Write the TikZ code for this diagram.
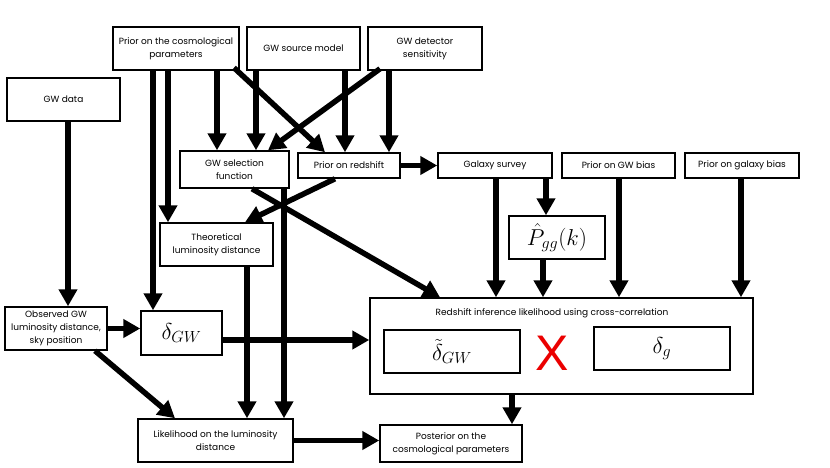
\documentclass[tikz,border=0pt]{standalone}
\usepackage{fix-cm}
\usepackage{amsmath}
\usepackage{fontspec}
\setmainfont{Poppins}
\newfontfamily\crossfont{Liberation Sans}
\usepackage{tikz}
\usetikzlibrary{arrows.meta}
\definecolor{crossred}{rgb}{0.92, 0.0, 0.0}

\begin{document}
\begin{tikzpicture}[x=1pt, y=-1pt,
    box/.style={draw, line width=1.5pt, align=center, inner sep=1pt, font=\fontsize{9}{13}\selectfont},
    mathbox/.style={draw, line width=1.5pt, inner sep=1pt, font=\fontsize{23}{27}\selectfont},
    flow/.style={-{Triangle[width=18pt, length=17pt]}, line width=5.5pt}]
    \useasboundingbox (0, 0) rectangle (830, 467);

    % Top row: priors and models
    \node[box, minimum width=126pt, minimum height=43pt] (cosmo) at (176, 48.5) {Prior on the cosmological\\parameters};
    \node[box, minimum width=113pt, minimum height=43pt] (source) at (303.5, 48.5) {GW source model};
    \node[box, minimum width=114pt, minimum height=43pt] (detector) at (425, 48.5) {GW detector\\sensitivity};
    \node[box, minimum width=113pt, minimum height=43pt] (gwdata) at (63.5, 99.5) {GW data};

    % Second row
    \node[box, minimum width=109pt, minimum height=37pt] (selection) at (234.5, 169.5) {GW selection\\function};
    \node[box, minimum width=102pt, minimum height=25pt] (zprior) at (349, 165.5) {Prior on redshift};
    \node[box, minimum width=114pt, minimum height=25pt] (survey) at (495, 165.5) {Galaxy survey};
    \node[box, minimum width=113pt, minimum height=25pt] (gwbias) at (618.5, 165.5) {Prior on GW bias};
    \node[box, minimum width=114pt, minimum height=25pt] (galbias) at (742, 165.5) {Prior on galaxy bias};

    % Middle
    \node[mathbox, minimum width=96pt, minimum height=43pt] (pgg) at (557, 237.5) {$\hat{P}_{gg}(k)$};
    \node[box, minimum width=113pt, minimum height=43pt] (theory) at (216.5, 244.5) {Theoretical\\luminosity distance};
    \node[box, minimum width=102pt, minimum height=43pt] (observed) at (56, 328.5) {Observed GW\\luminosity distance,\\sky position};
    \node[mathbox, minimum width=81pt, minimum height=44pt] (dgw) at (181.5, 333) {$\delta_{GW}$};

    % Cross-correlation block
    \node[draw, line width=1.5pt, minimum width=383pt, minimum height=96pt] (redshift) at (561.5, 346) {};
    \node[font=\fontsize{9}{11}\selectfont] (title) at (552, 313) {Redshift inference likelihood using cross-correlation};
    \node[mathbox, minimum width=136pt, minimum height=43pt] (dtilde) at (452, 351.5) {$\tilde{\delta}_{GW}$};
    \node[mathbox, minimum width=136pt, minimum height=43pt] (dg) at (662, 348.5) {$\delta_{g}$};
    \node[text=crossred, font=\crossfont\fontsize{50}{50}\selectfont, inner sep=0pt] (cross) at (552, 353) {X};

    % Bottom row
    \node[box, minimum width=155pt, minimum height=43pt] (likelihood) at (215.5, 440.5) {Likelihood on the luminosity\\distance};
    \node[box, minimum width=142pt, minimum height=37pt] (posterior) at (451, 443.5) {Posterior on the\\cosmological parameters};

    % Arrows from the top row
    \draw[flow] ([xshift=4.5pt]gwdata.south) -- ([xshift=12pt]observed.north);
    \draw[flow] ([xshift=-23pt]cosmo.south) -- ([xshift=-28.5pt]dgw.north);
    \draw[flow] ([xshift=-8pt]cosmo.south) -- ([xshift=-48.5pt]theory.north);
    \draw[flow] ([xshift=41pt]cosmo.south) -- ([xshift=-17.5pt]selection.north);
    \draw[flow] ([xshift=58pt, yshift=3pt]cosmo.south) -- ([xshift=-24pt]zprior.north);
    \draw[flow] ([xshift=-47.5pt]source.south) -- ([xshift=21.5pt]selection.north);
    \draw[flow] ([xshift=41.5pt]source.south) -- ([xshift=-4pt]zprior.north);
    \draw[flow] ([xshift=-45pt, yshift=2pt]detector.south) -- ([xshift=33.5pt]selection.north);
    \draw[flow] ([xshift=-36pt]detector.south) -- ([xshift=40pt]zprior.north);

    % Arrows in the middle
    \draw[flow] (zprior.east) -- (survey.west);
    \draw[flow] ([xshift=-14pt]zprior.south) -- ([xshift=28.5pt]theory.north);
    \draw[flow] ([xshift=49.5pt]selection.south) -- ([xshift=68.5pt]likelihood.north);
    \draw[flow] ([xshift=17.5pt]selection.south) -- ([xshift=-121.5pt]redshift.north);
    \draw[flow] ([xshift=30.5pt]theory.south) -- ([xshift=31.5pt]likelihood.north);
    \draw[flow] ([xshift=1pt]survey.south) -- ([xshift=-65.5pt]redshift.north);
    \draw[flow] ([xshift=51pt]survey.south) -- ([xshift=-11pt]pgg.north);
    \draw[flow] ([xshift=-14pt]pgg.south) -- ([xshift=-18.5pt]redshift.north);
    \draw[flow] ([xshift=0.5pt]gwbias.south) -- ([xshift=57.5pt]redshift.north);
    \draw[flow] ([xshift=-1pt]galbias.south) -- ([xshift=179.5pt]redshift.north);

    % Arrows to the bottom
    \draw[flow] (observed.east) -- ([yshift=4.5pt]dgw.west);
    \draw[flow] ([xshift=39pt]observed.south) -- ([xshift=-40.5pt]likelihood.north);
    \draw[flow] ([yshift=-7pt]dgw.east) -- ([yshift=6pt]redshift.west);
    \draw[flow] (likelihood.east) -- ([yshift=3pt]posterior.west);
    \draw[flow] ([xshift=-49.5pt]redshift.south) -- ([xshift=61pt]posterior.north);
\end{tikzpicture}
\end{document}
